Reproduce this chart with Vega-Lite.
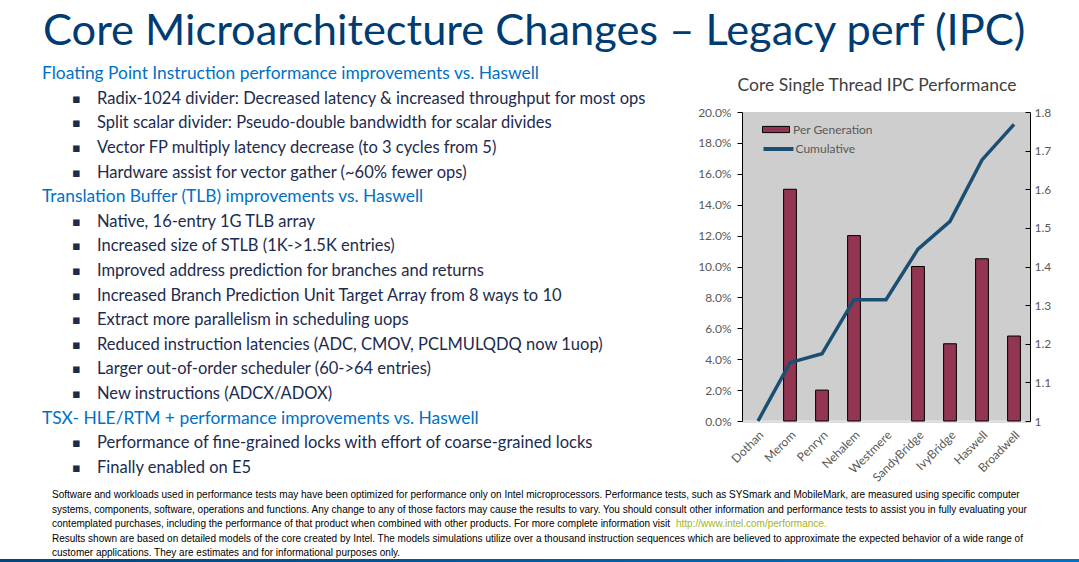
{
  "$schema": "https://vega.github.io/schema/vega-lite/v6.json",
  "background": "white",
  "padding": {"left": 0, "top": 9, "right": 0, "bottom": 0},
  "title": {
    "text": "Core Microarchitecture Changes – Legacy perf (IPC)",
    "anchor": "start",
    "frame": "group",
    "dx": 43,
    "font": "Lato",
    "fontSize": 43.4,
    "fontWeight": "normal",
    "color": "#003C71",
    "offset": 8
  },
  "config": {"view": {"stroke": null}, "font": "Lato"},
  "spacing": 6,
  "resolve": {
    "scale": {"x": "independent", "y": "independent", "fill": "independent", "stroke": "independent"},
    "legend": {"fill": "independent", "stroke": "independent"}
  },
  "vconcat": [
    {
      "spacing": 37,
      "resolve": {
        "scale": {"x": "independent", "y": "independent", "fill": "independent", "stroke": "independent"},
        "legend": {"fill": "independent", "stroke": "independent"}
      },
      "hconcat": [
        {
          "width": 660,
          "height": 418,
          "view": {"stroke": null},
          "data": {
            "values": [
              {"line": 1, "level": "header", "text": "Floating Point Instruction performance improvements vs. Haswell"},
              {"line": 2, "level": "bullet", "text": "Radix-1024 divider: Decreased latency & increased throughput for most ops"},
              {"line": 3, "level": "bullet", "text": "Split scalar divider: Pseudo-double bandwidth for scalar divides"},
              {"line": 4, "level": "bullet", "text": "Vector FP multiply latency decrease (to 3 cycles from 5)"},
              {"line": 5, "level": "bullet", "text": "Hardware assist for vector gather (~60% fewer ops)"},
              {"line": 6, "level": "header", "text": "Translation Buffer (TLB) improvements vs. Haswell"},
              {"line": 7, "level": "bullet", "text": "Native, 16-entry 1G TLB array"},
              {"line": 8, "level": "bullet", "text": "Increased size of STLB (1K->1.5K entries)"},
              {"line": 9, "level": "bullet", "text": "Improved address prediction for branches and returns"},
              {"line": 10, "level": "bullet", "text": "Increased Branch Prediction Unit Target Array from 8 ways to 10"},
              {"line": 11, "level": "bullet", "text": "Extract more parallelism in scheduling uops"},
              {"line": 12, "level": "bullet", "text": "Reduced instruction latencies (ADC, CMOV, PCLMULQDQ now 1uop)"},
              {"line": 13, "level": "bullet", "text": "Larger out-of-order scheduler (60->64 entries)"},
              {"line": 14, "level": "bullet", "text": "New instructions (ADCX/ADOX)"},
              {"line": 15, "level": "header", "text": "TSX- HLE/RTM + performance improvements vs. Haswell"},
              {"line": 16, "level": "bullet", "text": "Performance of fine-grained locks with effort of coarse-grained locks"},
              {"line": 17, "level": "bullet", "text": "Finally enabled on E5"}
            ]
          },
          "encoding": {
            "y": {"field": "line", "type": "ordinal", "scale": {"type": "point", "padding": 0.5}, "axis": null},
            "x": {"field": "level", "type": "nominal", "scale": {"type": "point", "domain": ["header", "bullet"], "range": [42, 97], "padding": 0}, "axis": null}
          },
          "layer": [
            {
              "transform": [{"filter": "datum.level === 'header'"}],
              "mark": {"type": "text", "align": "left", "baseline": "middle", "font": "Lato", "fontSize": 17.4, "color": "#0071C5"},
              "encoding": {"text": {"field": "text"}}
            },
            {
              "transform": [{"filter": "datum.level === 'bullet'"}],
              "mark": {"type": "text", "align": "left", "baseline": "middle", "font": "Lato", "fontSize": 16.5, "color": "#1C2B4E"},
              "encoding": {"text": {"field": "text"}}
            },
            {
              "transform": [{"filter": "datum.level === 'bullet'"}],
              "mark": {"type": "text", "align": "left", "baseline": "middle", "font": "DejaVu Sans", "fontSize": 13, "color": "#1C2B4E", "dx": -25, "text": "▪"}
            }
          ]
        },
        {
          "spacing": 0,
          "resolve": {
            "scale": {"fill": "independent", "stroke": "independent"},
            "legend": {"fill": "independent", "stroke": "independent"}
          },
          "vconcat": [
            {
              "width": 270,
              "height": 44,
              "view": {"stroke": null},
              "data": {"values": [{"chartTitle": "Core Single Thread IPC Performance"}]},
              "mark": {"type": "text", "font": "Lato", "fontSize": 17.5, "color": "#404040", "baseline": "middle", "align": "center", "dy": 2},
              "encoding": {"text": {"field": "chartTitle"}}
            },
            {
              "width": 288,
              "height": 309,
              "view": {"fill": "#CECECE", "stroke": null},
              "data": {
                "values": [
                  {"gen": "Dothan", "perGen": null, "cumulative": 1.0},
                  {"gen": "Merom", "perGen": 0.15, "cumulative": 1.151},
                  {"gen": "Penryn", "perGen": 0.02, "cumulative": 1.174},
                  {"gen": "Nehalem", "perGen": 0.12, "cumulative": 1.314},
                  {"gen": "Westmere", "perGen": 0, "cumulative": 1.314},
                  {"gen": "SandyBridge", "perGen": 0.10, "cumulative": 1.445},
                  {"gen": "IvyBridge", "perGen": 0.05, "cumulative": 1.517},
                  {"gen": "Haswell", "perGen": 0.105, "cumulative": 1.676},
                  {"gen": "Broadwell", "perGen": 0.055, "cumulative": 1.768}
                ]
              },
              "encoding": {
                "x": {
                  "field": "gen", "type": "nominal", "sort": null,
                  "scale": {
                    "domain": ["Dothan", "Merom", "Penryn", "Nehalem", "Westmere", "SandyBridge", "IvyBridge", "Haswell", "Broadwell"],
                    "paddingInner": 0.6, "paddingOuter": 0.3
                  },
                  "axis": {
                    "title": null, "labelAngle": -45, "labelFont": "Lato", "labelFontSize": 12,
                    "labelColor": "#595959", "domainColor": "#DDDDDD", "domainWidth": 3,
                    "ticks": false, "labelPadding": 8
                  }
                }
              },
              "layer": [
                {
                  "mark": {"type": "bar", "stroke": "black", "strokeWidth": 1},
                  "encoding": {
                    "y": {
                      "field": "perGen", "type": "quantitative",
                      "scale": {"domain": [0, 0.2], "nice": false},
                      "axis": {
                        "orient": "left", "title": null, "grid": false,
                        "values": [0, 0.02, 0.04, 0.06, 0.08, 0.1, 0.12, 0.14, 0.16, 0.18, 0.2],
                        "format": ".1%", "domainColor": "black", "tickColor": "black", "tickSize": 5,
                        "labelPadding": 6, "labelFont": "Lato", "labelFontSize": 12, "labelColor": "#595959"
                      }
                    },
                    "fill": {
                      "datum": "Per Generation", "type": "nominal",
                      "scale": {"domain": ["Per Generation"], "range": ["#913550"]},
                      "legend": {
                        "title": null, "orient": "none", "legendX": 23.5, "legendY": 7,
                        "labelFont": "Lato", "labelFontSize": 12, "labelColor": "#595959",
                        "symbolType": "M-1.35,-0.31H1.35V0.31H-1.35Z", "symbolSize": 400,
                        "symbolStrokeColor": "black", "symbolStrokeWidth": 1, "symbolOpacity": 1,
                        "labelOffset": 6.5, "rowPadding": 0, "padding": 0
                      }
                    },
                    "strokeOpacity": {"condition": {"test": "datum.perGen === 0", "value": 0}, "value": 1}
                  }
                },
                {
                  "mark": {"type": "line", "strokeWidth": 3.5},
                  "encoding": {
                    "y": {
                      "field": "cumulative", "type": "quantitative",
                      "scale": {"domain": [1, 1.8], "nice": false, "zero": false},
                      "axis": {
                        "orient": "right", "title": null, "grid": false,
                        "values": [1, 1.1, 1.2, 1.3, 1.4, 1.5, 1.6, 1.7, 1.8],
                        "format": ".1~f", "domainColor": "black", "tickColor": "black", "tickSize": -5,
                        "labelPadding": 9, "labelFont": "Lato", "labelFontSize": 12, "labelColor": "#595959"
                      }
                    },
                    "stroke": {
                      "datum": "Cumulative", "type": "nominal",
                      "scale": {"domain": ["Cumulative"], "range": ["#1B4F72"]},
                      "legend": {
                        "title": null, "orient": "none", "legendX": 24.5, "legendY": 25,
                        "labelFont": "Lato", "labelFontSize": 12, "labelColor": "#595959",
                        "symbolType": "M-1.5,0H1.5", "symbolSize": 400, "symbolStrokeWidth": 4,
                        "symbolFillColor": "transparent", "symbolOpacity": 1,
                        "labelOffset": 5, "rowPadding": 0, "padding": 0
                      }
                    }
                  }
                }
              ],
              "resolve": {"scale": {"y": "independent"}}
            }
          ]
        }
      ]
    },
    {
      "spacing": 0,
      "vconcat": [
        {
          "width": 1000,
          "height": 66.7,
          "view": {"stroke": null},
          "data": {
            "values": [
              {"line": 1, "part": "disclaimer", "text": "Software and workloads used in performance tests may have been optimized for performance only on Intel microprocessors.  Performance tests, such as SYSmark and MobileMark, are measured using specific computer"},
              {"line": 2, "part": "disclaimer", "text": "systems, components, software, operations and functions. Any change to any of those factors may cause the results to vary. You should consult other information and performance tests to assist you in fully evaluating your"},
              {"line": 3, "part": "disclaimer", "text": "contemplated purchases, including the performance of that product when combined with other products.  For more complete information visit"},
              {"line": 3, "part": "link", "text": "http://www.intel.com/performance."},
              {"line": 4, "part": "disclaimer", "text": "Results shown are based on detailed models of the core created by Intel. The models simulations utilize over a thousand instruction sequences which are believed to approximate the expected behavior of a wide range of"},
              {"line": 5, "part": "disclaimer", "text": "customer applications.  They are estimates and for informational purposes only."}
            ]
          },
          "encoding": {
            "y": {"field": "line", "type": "ordinal", "scale": {"type": "point", "padding": 0.3}, "axis": null},
            "x": {"field": "part", "type": "nominal", "scale": {"type": "point", "domain": ["disclaimer", "link"], "range": [52, 676], "padding": 0}, "axis": null}
          },
          "layer": [
            {
              "transform": [{"filter": "datum.part === 'disclaimer'"}],
              "mark": {"type": "text", "align": "left", "baseline": "middle", "font": "Liberation Sans", "fontSize": 10, "color": "black"},
              "encoding": {"text": {"field": "text"}}
            },
            {
              "transform": [{"filter": "datum.part === 'link'"}],
              "mark": {"type": "text", "align": "left", "baseline": "middle", "font": "Liberation Sans", "fontSize": 10, "color": "#A4B520"},
              "encoding": {"text": {"field": "text"}}
            }
          ]
        },
        {
          "width": 1079,
          "height": 7,
          "view": {"stroke": null},
          "data": {"values": [{"band": "slide footer"}]},
          "mark": {
            "type": "rect",
            "fill": {"gradient": "linear", "x1": 0, "x2": 1, "y1": 0, "y2": 0, "stops": [{"offset": 0, "color": "#00467F"}, {"offset": 1, "color": "#0071C5"}]}
          },
          "encoding": {}
        }
      ]
    }
  ]
}
